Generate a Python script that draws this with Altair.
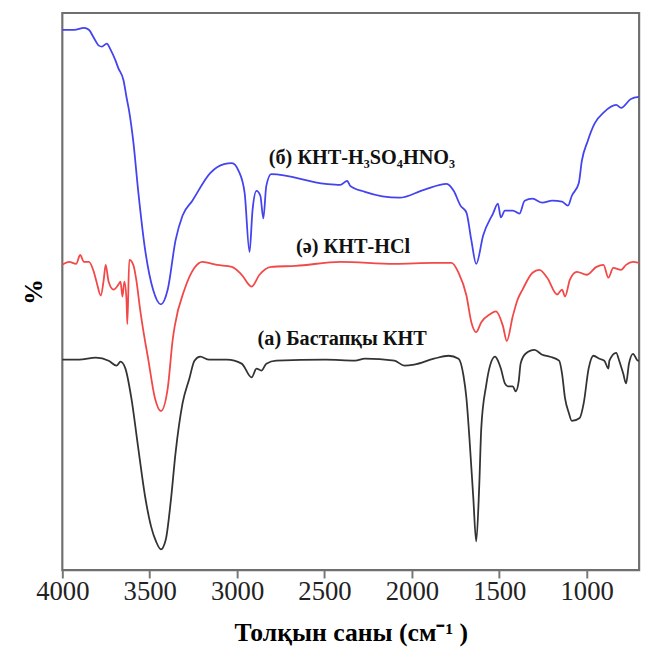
import altair as alt
import pandas as pd

# Blue: (б) КНТ-H3SO4HNO3
wn_b = [4000, 3932, 3876, 3848, 3820, 3791, 3774, 3746, 3724, 3696, 3679, 3650, 3633, 3617, 3594, 3566,
        3526, 3481, 3436, 3397, 3352, 3312, 3256, 3154, 3075, 3030, 2991, 2957, 2929, 2912, 2889, 2867,
        2850, 2833, 2805, 2494, 2410, 2370, 2353, 2269, 2071, 1931, 1801, 1761, 1722, 1688, 1660, 1632,
        1592, 1536, 1508, 1491, 1468, 1423, 1384, 1355, 1310, 1254, 1197, 1141, 1107, 1085, 1045, 1028,
        995, 955, 899, 831, 803, 747, 701]
t_b = [547, 547, 549, 547, 539, 531, 530, 533, 527, 516, 508, 496, 479, 464, 434, 384,
       324, 284, 269, 284, 334, 359, 374, 402, 411, 412, 404, 382, 322, 364, 384, 379,
       356, 389, 401, 391, 390, 394, 389, 383, 377, 385, 391, 384, 369, 362, 334, 310,
       339, 361, 371, 357, 364, 364, 361, 374, 376, 372, 374, 373, 369, 379, 392, 414,
       434, 452, 464, 471, 468, 477, 479]

# Red: (ә) КНТ-HCl
wn_r = [4000, 3961, 3921, 3898, 3876, 3848, 3820, 3803, 3780, 3763, 3752, 3735, 3707, 3679, 3667, 3656,
        3645, 3633, 3628, 3617, 3594, 3577, 3555, 3538, 3509, 3470, 3436, 3397, 3368, 3357, 3301, 3244,
        3199, 3115, 3030, 2974, 2917, 2872, 2805, 2664, 2410, 2100, 1874, 1773, 1733, 1688, 1660, 1632,
        1603, 1553, 1519, 1479, 1457, 1423, 1395, 1367, 1310, 1271, 1226, 1169, 1141, 1124, 1096, 1056,
        1000, 944, 904, 876, 848, 803, 775, 735, 701]
t_r = [309, 312, 310, 319, 312, 312, 302, 291, 278, 294, 309, 292, 284, 289, 292, 277,
       292, 274, 249, 314, 309, 294, 264, 244, 214, 174, 161, 184, 234, 247, 284, 306,
       312, 309, 307, 299, 287, 299, 307, 308, 312, 310, 311, 311, 301, 278, 251, 241,
       251, 259, 262, 247, 232, 257, 274, 284, 301, 304, 296, 279, 284, 277, 294, 302,
       299, 307, 309, 296, 306, 304, 309, 312, 311]

# Black: (а) Бастапқы КНТ
wn_k = [4000, 3904, 3808, 3735, 3690, 3667, 3639, 3605, 3566, 3526, 3492, 3464, 3436, 3408, 3380, 3352,
        3312, 3273, 3244, 3211, 3160, 3058, 2974, 2917, 2889, 2861, 2833, 2776, 2494, 2325, 2269, 2100,
        2043, 1987, 1874, 1790, 1733, 1705, 1688, 1671, 1649, 1632, 1615, 1603, 1575, 1553, 1524, 1508,
        1491, 1468, 1451, 1423, 1406, 1389, 1378, 1350, 1299, 1254, 1209, 1158, 1141, 1124, 1102, 1085,
        1040, 1017, 989, 961, 927, 899, 876, 870, 831, 814, 791, 775, 758, 735, 707, 701]
t_k = [213, 213, 215, 212, 207, 211, 204, 174, 124, 74, 44, 29, 21, 31, 69, 119,
       169, 194, 212, 216, 213, 213, 209, 195, 204, 202, 209, 212, 213, 212, 214, 212,
       207, 208, 214, 217, 214, 197, 174, 134, 74, 29, 84, 144, 187, 207, 216, 212,
       204, 189, 186, 186, 181, 191, 209, 219, 223, 218, 216, 212, 199, 174, 159, 151,
       154, 169, 204, 217, 214, 212, 204, 212, 220, 212, 199, 189, 209, 219, 212, 212]

series_names = ["(б) КНТ-H₃SO₄HNO₃", "(ә) КНТ-HCl", "(а) Бастапқы КНТ"]
series_colors = ["#4343f0", "#f24848", "#333333"]
label_wn = [2286, 2336, 2399]
label_t = [417, 327, 234]

x_ticks = [4000, 3500, 3000, 2500, 2000, 1500, 1000]

rows = []
for name, xs, ys in zip(series_names, [wn_b, wn_r, wn_k], [t_b, t_r, t_k]):
    for xv, yv in zip(xs, ys):
        rows.append({"series": name, "wn": xv, "t": yv})
df = pd.DataFrame(rows)
labels = pd.DataFrame({"label": series_names, "wn": label_wn, "t": label_t})

xscale = alt.Scale(domain=[700, 4000], reverse=True, nice=False, zero=False)
yscale = alt.Scale(domain=[0, 564], nice=False, zero=False)

lines = alt.Chart(df).mark_line(strokeWidth=1.8, interpolate="monotone").encode(
    x=alt.X("wn:Q", scale=xscale,
            axis=alt.Axis(values=x_ticks, format="d", title="Толқын саны (см⁻¹ )",
                          labelFont="Liberation Serif", labelFontSize=27, labelColor="#222222",
                          labelFlush=False, labelOverlap=False, labelPadding=1,
                          tickSize=8, tickColor="#777777", tickWidth=2,
                          domain=False, grid=False,
                          titleFont="Liberation Serif", titleFontSize=26, titleFontWeight="bold",
                          titleColor="#000000", titlePadding=15)),
    y=alt.Y("t:Q", scale=yscale,
            axis=alt.Axis(labels=False, ticks=False, domain=False, grid=False, title="%",
                          titleFont="Liberation Serif", titleFontSize=26, titleFontWeight="bold",
                          titleColor="#000000", titlePadding=16)),
    color=alt.Color("series:N", scale=alt.Scale(domain=series_names, range=series_colors), legend=None),
    detail="series:N",
)

texts = alt.Chart(labels).mark_text(font="Liberation Serif", fontSize=20.5, fontWeight="bold",
                                    color="#111111", align="center", baseline="middle").encode(
    x=alt.X("wn:Q", scale=xscale),
    y=alt.Y("t:Q", scale=yscale),
    text="label:N",
)

chart = alt.layer(lines, texts).properties(
    width=584, height=564,
    autosize=alt.AutoSizeParams(type="none"),
    padding={"left": 55, "top": 1, "right": 10, "bottom": 90},
).configure(
    background="white",
    view=alt.ViewConfig(stroke="#6f6f6f", strokeWidth=2.2),
)

chart.save("out.html", embed_options={"renderer": "svg", "actions": False})
